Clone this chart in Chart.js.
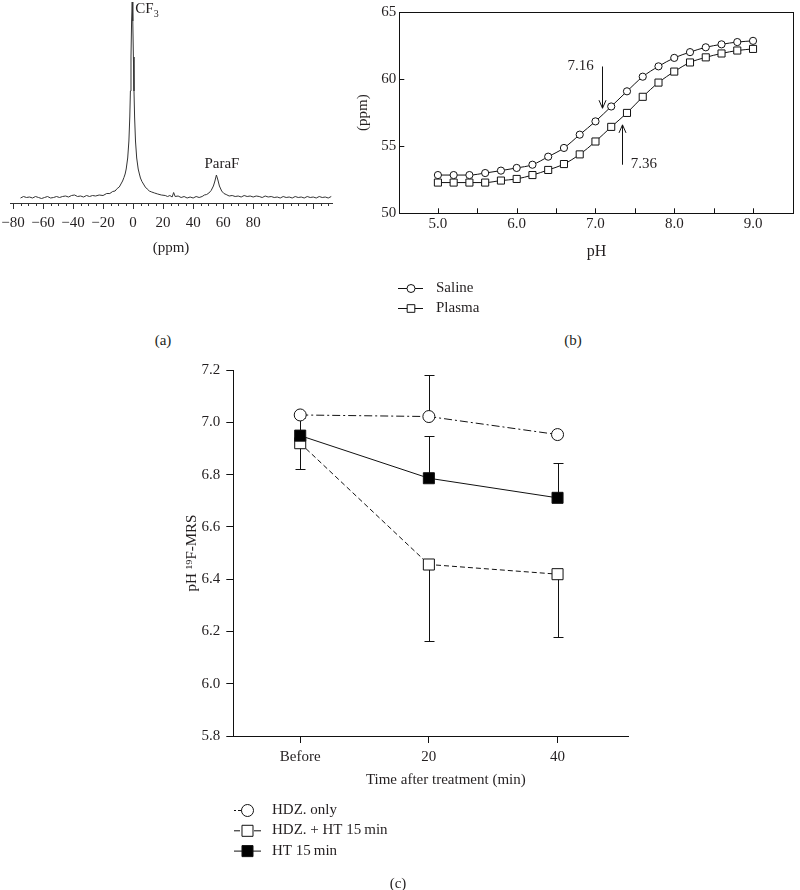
<!DOCTYPE html>
<html><head><meta charset="utf-8">
<script src="https://cdn.jsdelivr.net/npm/chart.js@4.4.0/dist/chart.umd.min.js"></script>
<style>
html,body{margin:0;padding:0;background:#fff;}
#page{position:relative;width:800px;height:890px;overflow:hidden;background:#fff;font-family:"Liberation Serif","Times New Roman",serif;}
canvas{position:absolute;}
.lbl{position:absolute;font-size:15px;color:#231f20;transform:translate(-50%,-50%);white-space:nowrap;}
</style></head><body>
<div id="page">
<canvas id="ca" width="390" height="262" style="left:-20px;top:0"></canvas>
<canvas id="cb" width="450" height="320" style="left:350px;top:0"></canvas>
<canvas id="cc" width="500" height="535" style="left:150px;top:355px"></canvas>
<div class="lbl" style="left:163px;top:340px">(a)</div>
<div class="lbl" style="left:573px;top:340px">(b)</div>
<div class="lbl" style="left:398px;top:883px">(c)</div>
</div>
<script>
// ---------- DATA ----------
// (a) 19F spectrum
const spectrumPpm = [
  -75,-73,-71,-69,-67,-65,-63,-61,-59,-57,
  -55,-53,-51,-49,-47,-45,-43,-41,-39,-37,
  -35,-33,-31,-29,-27,-25,-22.6,-20,-17.6,-15.5,
  -13.6,-12,-10.6,-9.2,-8.1,-7,-6.1,-5.3,-4.6,-3.6,
  -2.8,-2.2,-1.8,-1.4,-1.0,-0.6,-0.2,0.2,0.6,1.0,
  1.6,2.4,3.4,4.2,4.9,5.9,6.9,8.1,9.4,10.8,
  12.4,14.3,16.4,18.8,21.4,23,24.5,26,27,28,
  30,32,34,36,38,40,42,44,46,47.5,
  49,50.5,52,53.5,54.5,55.5,56.5,57.5,59,60.5,
  62,64,66,68,70,72,74,76,78,80,
  82,84,86,88,90,92,94,96,98,100,
  102,104,106,108,110,112,114,116,118,120,
  122,124,126,128,130,132
];
const spectrumIntensity = [
  5,6.5,5.5,6,5,6.5,5.5,4.5,5.5,6.5,
  5,5.5,6.5,5.5,6.5,7,6,7.5,8,6.5,
  7,6,7.5,6.5,7.5,7,8,7.5,9.5,9.5,
  11.5,12,14.5,16,19,22,25.5,29,34,45,
  62,86,112,146,182,201,182,146,112,86,
  62,45,34,29,25,21.5,19,16,14,12,
  11,10,9,8,7.5,6.5,7.5,6,10.5,6.5,
  7,5.5,6.5,5,6,5,6.5,5.5,6.5,8,
  8.5,10,12.5,17,22,28,23,17,12,9.5,
  8.5,7,7.5,6.5,7,6,7.5,6.5,7,6,
  7,6.5,5.5,7,6,6.5,5.5,6,5,6.5,
  5.5,6,5,6.5,5.5,6,5,6.5,5.5,6,
  5,6.5,5.5,6,5,6.5
];
const ppmTickLabels = [-80,-60,-40,-20,0,20,40,60,80];

// (b) titration curves
const phValues = [5.0,5.2,5.4,5.6,5.8,6.0,6.2,6.4,6.6,6.8,7.0,7.2,7.4,7.6,7.8,8.0,8.2,8.4,8.6,8.8,9.0];
const salineShift = [52.85,52.85,52.85,53.0,53.18,53.38,53.62,54.22,54.87,55.86,56.85,57.96,59.09,60.18,60.95,61.58,62.01,62.37,62.59,62.76,62.85];
const plasmaShift = [52.29,52.29,52.29,52.29,52.44,52.56,52.85,53.23,53.67,54.39,55.35,56.44,57.48,58.68,59.74,60.56,61.24,61.62,61.91,62.13,62.25];
const phTickLabels = [5,6,7,8,9];
const phMinorTicks = [5.0,5.5,6.0,6.5,7.0,7.5,8.0,8.5,9.0];
const shiftTicks = [50,55,60,65];

// (c) time course
const timeLabels = ['Before','20','40'];
const hdzOnly = [7.028,7.022,6.953];
const hdzOnlyErrHigh = [null,7.182,null];
const hdzHt = [6.92,6.456,6.419];
const hdzHtErrLow = [6.82,6.164,6.177];
const ht = [6.949,6.786,6.711];
const htErrHigh = [7.015,6.949,6.845];

// ---------- STYLE ----------
const SERIF = '"Liberation Serif","Times New Roman",serif';
const INK = '#231f20';
Chart.defaults.font.family = SERIF;
Chart.defaults.color = INK;

function txt(ctx, s, x, y, size, align) {
  ctx.font = size + 'px ' + SERIF;
  ctx.fillStyle = INK;
  ctx.textAlign = align || 'left';
  ctx.textBaseline = 'middle';
  ctx.fillText(s, x, y);
}
function seg(ctx, x1, y1, x2, y2) {
  ctx.beginPath(); ctx.moveTo(x1, y1); ctx.lineTo(x2, y2); ctx.stroke();
}

// ---------- (a) ----------
const specDecor = {
  id: 'specDecor',
  afterDraw(chart) {
    const {ctx, chartArea, scales: {x}} = chart;
    ctx.save();
    ctx.strokeStyle = '#333'; ctx.lineWidth = 1;
    const b = chartArea.bottom;
    for (let v = -80; v <= 130; v += 5) {
      const px = Math.round(x.getPixelForValue(v)) + 0.5;
      seg(ctx, px, b, px, b + (v % 20 === 0 ? 6 : 3));
    }
    // peak labels
    const cfX = x.getPixelForValue(1.5);
    ctx.font = '15px ' + SERIF;
    txt(ctx, 'CF', cfX, 9, 15);
    const w = ctx.measureText('CF').width;
    txt(ctx, '3', cfX + w, 14, 10);
    txt(ctx, 'ParaF', x.getPixelForValue(47.5), 164, 15);
    ctx.restore();
  }
};

new Chart(document.getElementById('ca'), {
  type: 'line',
  data: { datasets: [{
    data: spectrumPpm.map((p, i) => ({x: p, y: spectrumIntensity[i]})),
    borderColor: '#333', borderWidth: 1, pointRadius: 0, tension: 0
  }]},
  options: {
    responsive: false, animation: false, events: [],
    layout: { padding: {left: 30, right: 38, top: 0, bottom: 0} },
    plugins: { legend: {display: false}, tooltip: {enabled: false} },
    scales: {
      x: {
        type: 'linear', min: -82, max: 132.5,
        afterBuildTicks: s => { s.ticks = ppmTickLabels.map(v => ({value: v})); },
        ticks: { color: INK, font: {size: 15}, padding: 11, maxRotation: 0, autoSkip: false,
                 callback: v => v < 0 ? '\u2212' + Math.abs(v) : String(v) },
        grid: { display: false, drawTicks: false },
        border: { display: true, color: '#333', width: 1 },
        title: { display: true, text: '(ppm)', color: INK, font: {size: 15}, padding: {top: 0, bottom: 5} },
        afterFit: s => { s.height = 59; }
      },
      y: { display: false, min: 0, max: 203 }
    }
  },
  plugins: [specDecor]
});

// ---------- (b) ----------
const phArrows = [
  {ph: 7.079, from: 60.94, to: 57.83, label: '7.16', labelPh: 6.813, labelShift: 60.94},
  {ph: 7.34, from: 53.62, to: 56.59, label: '7.36', labelPh: 7.615, labelShift: 53.70}
];
const phDecor = {
  id: 'phDecor',
  afterDraw(chart) {
    const {ctx, chartArea: a, scales: {x, y}} = chart;
    ctx.save();
    ctx.strokeStyle = '#111'; ctx.lineWidth = 1;
    ctx.strokeRect(Math.round(a.left) + 0.5, Math.round(a.top) + 0.5, Math.round(a.right - a.left) - 1, Math.round(a.bottom - a.top));
    phMinorTicks.forEach(v => {
      const px = Math.round(x.getPixelForValue(v)) + 0.5;
      seg(ctx, px, a.bottom, px, a.bottom - 5);
    });
    shiftTicks.forEach(v => {
      const py = Math.round(y.getPixelForValue(v)) + 0.5;
      seg(ctx, a.left, py, a.left + 5, py);
    });
    // arrows
    phArrows.forEach(ar => {
      const px = Math.round(x.getPixelForValue(ar.ph)) + 0.5;
      const y1 = y.getPixelForValue(ar.from), y2 = y.getPixelForValue(ar.to);
      seg(ctx, px, y1, px, y2);
      const d = y2 > y1 ? -1 : 1;
      seg(ctx, px, y2, px - 3.5, y2 + d * 8);
      seg(ctx, px, y2, px + 3.5, y2 + d * 8);
      txt(ctx, ar.label, x.getPixelForValue(ar.labelPh), y.getPixelForValue(ar.labelShift), 15, 'center');
    });
    // legend
    chart.data.datasets.forEach((ds, i) => {
      const ly = 288 + i * 20, lx0 = 48, lx1 = 73, mx = 61;
      ctx.strokeStyle = '#111'; ctx.lineWidth = 1;
      seg(ctx, lx0, ly + 0.5, lx1, ly + 0.5);
      ctx.fillStyle = '#fff';
      Chart.helpers.drawPoint(ctx, {pointStyle: ds.pointStyle, radius: ds.pointRadius + 0.4, borderWidth: 1, rotation: 0}, mx, ly + 0.5);
      txt(ctx, ds.label, 86, ly, 15);
    });
    ctx.restore();
  }
};

new Chart(document.getElementById('cb'), {
  type: 'line',
  data: { datasets: [
    { label: 'Saline', data: phValues.map((p, i) => ({x: p, y: salineShift[i]})),
      borderColor: '#111', borderWidth: 1, cubicInterpolationMode: 'monotone',
      pointStyle: 'circle', pointRadius: 3.6, pointBackgroundColor: '#fff', pointBorderColor: '#111', pointBorderWidth: 1 },
    { label: 'Plasma', data: phValues.map((p, i) => ({x: p, y: plasmaShift[i]})),
      borderColor: '#111', borderWidth: 1, cubicInterpolationMode: 'monotone',
      pointStyle: 'rect', pointRadius: 5, pointBackgroundColor: '#fff', pointBorderColor: '#111', pointBorderWidth: 1 }
  ]},
  options: {
    responsive: false, animation: false, events: [],
    layout: { padding: {left: 0, right: 1, top: 6, bottom: 48} },
    plugins: { legend: {display: false}, tooltip: {enabled: false} },
    scales: {
      x: {
        type: 'linear', min: 4.51, max: 9.52,
        afterBuildTicks: s => { s.ticks = phTickLabels.map(v => ({value: v})); },
        ticks: { color: INK, font: {size: 15}, padding: 2, maxRotation: 0, autoSkip: false, callback: v => v.toFixed(1) },
        grid: { display: false, drawTicks: false },
        border: { display: false },
        title: { display: true, text: 'pH', color: INK, font: {size: 16}, padding: {top: 0, bottom: 11} },
        afterFit: s => { s.height = 272 - 213.3; }
      },
      y: {
        min: 50, max: 65,
        afterBuildTicks: s => { s.ticks = shiftTicks.map(v => ({value: v})); },
        ticks: { color: INK, font: {size: 15}, padding: 3, callback: v => String(v) },
        grid: { display: false, drawTicks: false },
        border: { display: false },
        title: { display: true, text: '(ppm)', color: INK, font: {size: 15}, padding: {top: 4, bottom: 0} },
        afterFit: s => { s.width = 49.3; }
      }
    }
  },
  plugins: [phDecor]
});

// ---------- (c) ----------
const errorBars = {
  id: 'errorBars',
  beforeDatasetsDraw(chart) {
    const {ctx, scales: {x, y}} = chart;
    ctx.save();
    ctx.strokeStyle = '#111'; ctx.lineWidth = 1;
    chart.data.datasets.forEach(ds => {
      ds.data.forEach((p, i) => {
        ['errHigh', 'errLow'].forEach(k => {
          const arr = ds[k];
          if (!arr || arr[i] == null) return;
          const px = Math.round(x.getPixelForValue(p.x)) + 0.5;
          const py = y.getPixelForValue(p.y);
          const pe = Math.round(y.getPixelForValue(arr[i])) + 0.5;
          seg(ctx, px, py, px, pe);
          seg(ctx, px - 5, pe, px + 5, pe);
        });
      });
    });
    ctx.restore();
  }
};
const timeLegend = {
  id: 'timeLegend',
  afterDraw(chart) {
    const {ctx} = chart;
    ctx.save();
    chart.data.datasets.forEach((ds, i) => {
      const ly = 455 + i * 20.3, lx0 = 84, lx1 = 111, mx = 97.5;
      ctx.strokeStyle = '#111'; ctx.lineWidth = 1;
      ctx.setLineDash(ds.legendDash || []);
      seg(ctx, lx0, ly + 0.5, lx1, ly + 0.5);
      ctx.setLineDash([]);
      ctx.fillStyle = ds.pointBackgroundColor;
      Chart.helpers.drawPoint(ctx, {pointStyle: ds.pointStyle, radius: ds.pointRadius, borderWidth: 1, rotation: 0}, mx, ly + 0.5);
      txt(ctx, ds.label, 122, ly, 15);
    });
    ctx.restore();
  }
};

new Chart(document.getElementById('cc'), {
  type: 'line',
  data: { datasets: [
    { label: 'HDZ. only', data: hdzOnly.map((v, i) => ({x: i, y: v})), errHigh: hdzOnlyErrHigh, order: 1,
      borderColor: '#111', borderWidth: 1, borderDash: [8, 3, 2, 3], legendDash: [2, 2, 6, 40],
      pointStyle: 'circle', pointRadius: 6, pointBackgroundColor: '#fff', pointBorderColor: '#111', pointBorderWidth: 1 },
    { label: 'HDZ. + HT 15\u2009min', data: hdzHt.map((v, i) => ({x: i, y: v})), errLow: hdzHtErrLow, order: 2,
      borderColor: '#111', borderWidth: 1, borderDash: [5, 3], legendDash: [6, 14, 8, 40],
      pointStyle: 'rect', pointRadius: 7.8, pointBackgroundColor: '#fff', pointBorderColor: '#111', pointBorderWidth: 1 },
    { label: 'HT 15\u2009min', data: ht.map((v, i) => ({x: i, y: v})), errHigh: htErrHigh, order: 0,
      borderColor: '#111', borderWidth: 1,
      pointStyle: 'rect', pointRadius: 7.8, pointBackgroundColor: '#000', pointBorderColor: '#111', pointBorderWidth: 1 }
  ]},
  options: {
    responsive: false, animation: false, events: [],
    layout: { padding: {left: 0, right: 21.7, top: 14.3, bottom: 94} },
    plugins: { legend: {display: false}, tooltip: {enabled: false} },
    scales: {
      x: {
        type: 'linear', min: -0.52, max: 2.55,
        afterBuildTicks: s => { s.ticks = timeLabels.map((_, i) => ({value: i})); },
        ticks: { color: INK, font: {size: 15}, padding: 5, maxRotation: 0, autoSkip: false, callback: v => timeLabels[v] },
        grid: { drawOnChartArea: false, drawTicks: true, tickLength: 7, color: '#111' },
        border: { display: true, color: '#111', width: 1 },
        title: { display: true, text: '\u2003\u2003Time after treatment (min)', color: INK, font: {size: 15}, padding: {top: 0, bottom: 7} },
        afterFit: s => { s.height = 60; }
      },
      y: {
        min: 5.8, max: 7.2,
        ticks: { stepSize: 0.2, color: INK, font: {size: 15}, padding: 6, callback: v => v.toFixed(1) },
        grid: { drawOnChartArea: false, drawTicks: true, tickLength: 7, color: '#111' },
        border: { display: true, color: '#111', width: 1 },
        title: { display: true, text: 'pH \u00b9\u2079F-MRS', color: INK, font: {size: 15}, padding: {top: 33, bottom: 0} },
        afterFit: s => { s.width = 83.3; }
      }
    }
  },
  plugins: [errorBars, timeLegend]
});
</script>
</body></html>
